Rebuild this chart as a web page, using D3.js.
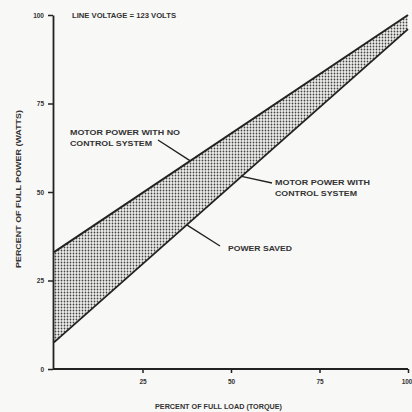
<!DOCTYPE html>
<html><head><meta charset="utf-8">
<script src="https://cdn.jsdelivr.net/npm/d3@7"></script>
<style>
html,body{margin:0;padding:0;background:#f8f8f6;}
svg{display:block;}
text{font-family:"Liberation Sans",Arial,sans-serif;fill:#333;font-weight:bold;}
</style></head>
<body>
<script>
// Data
const loadPct = [0, 100];
const noControl = [33, 100];
const withControl = [7.5, 96];
const yTicks = [0, 25, 50, 75, 100];
const xTicks = [25, 50, 75, 100];
const xTitle = "PERCENT OF FULL LOAD (TORQUE)";
const yTitle = "PERCENT OF FULL POWER (WATTS)";
const note = "LINE VOLTAGE = 123 VOLTS";

const W = 412, H = 412;
const svg = d3.select("body").append("svg").attr("width", W).attr("height", H);
svg.append("rect").attr("width", W).attr("height", H).attr("fill", "#f8f8f6");

const x = d3.scaleLinear().domain([0, 100]).range([54, 408]);
const y = d3.scaleLinear().domain([0, 100]).range([369, 15]);

// dot pattern
const defs = svg.append("defs");
const pat = defs.append("pattern").attr("id", "dots").attr("patternUnits", "userSpaceOnUse")
  .attr("width", 3).attr("height", 3);
pat.append("rect").attr("width", 3).attr("height", 3).attr("fill", "#eeeeec");
pat.append("circle").attr("cx", 1.5).attr("cy", 1.5).attr("r", 0.9).attr("fill", "#444");

const pts = loadPct.map((d, i) => ({x: d, hi: noControl[i], lo: withControl[i]}));

svg.append("path").datum(pts)
  .attr("d", d3.area().x(d => x(d.x)).y0(d => y(d.lo)).y1(d => y(d.hi)))
  .attr("fill", "url(#dots)");

svg.append("path").datum(pts)
  .attr("d", d3.line().x(d => x(d.x)).y(d => y(d.hi)))
  .attr("fill", "none").attr("stroke", "#222").attr("stroke-width", 2);
svg.append("path").datum(pts)
  .attr("d", d3.line().x(d => x(d.x)).y(d => y(d.lo)))
  .attr("fill", "none").attr("stroke", "#222").attr("stroke-width", 1.8);

// axes
const yAxis = svg.append("g").attr("transform", "translate(53,0)")
  .call(d3.axisLeft(y).tickValues(yTicks).tickSize(5).tickSizeOuter(0).tickPadding(4));
const xAxis = svg.append("g").attr("transform", "translate(0,369)")
  .call(d3.axisBottom(x).tickValues(xTicks).tickSize(4).tickSizeOuter(0).tickPadding(6));
[yAxis, xAxis].forEach(a => {
  a.select(".domain").attr("stroke", "#222").attr("stroke-width", 1.8);
  a.selectAll(".tick line").attr("stroke", "#222").attr("stroke-width", 1.5);
  a.selectAll("text").attr("font-size", 6.5).attr("fill", "#444")
    .attr("font-family", "Liberation Sans, Arial, sans-serif").attr("font-weight", "bold");
});
xAxis.select(".domain").attr("d", "M53,0H408");
xAxis.selectAll(".tick text").filter(d => d === 100).attr("text-anchor", "end").attr("dx", 4);

// titles
svg.append("text").attr("x", 155).attr("y", 409).attr("font-size", 7)
  .attr("textLength", 127).attr("lengthAdjust", "spacingAndGlyphs").text(xTitle);
svg.append("text").attr("transform", "translate(21,268) rotate(-90)").attr("font-size", 7)
  .attr("textLength", 158).attr("lengthAdjust", "spacingAndGlyphs").text(yTitle);
svg.append("text").attr("x", 72).attr("y", 18).attr("font-size", 7)
  .attr("textLength", 104).attr("lengthAdjust", "spacingAndGlyphs").text(note);

// annotations
function label(lines, lx, ly, widths) {
  lines.forEach((t, i) => {
    svg.append("text").attr("x", lx).attr("y", ly + i * 11).attr("font-size", 7)
      .attr("textLength", widths[i]).attr("lengthAdjust", "spacingAndGlyphs").text(t);
  });
}
function pointer(x1, y1, dx, dy) {
  svg.append("line").attr("x1", x1).attr("y1", y1).attr("x2", x(dx)).attr("y2", y(dy))
    .attr("stroke", "#222").attr("stroke-width", 1.4);
}
const hiAt = v => noControl[0] + (noControl[1] - noControl[0]) * v / 100;
const loAt = v => withControl[0] + (withControl[1] - withControl[0]) * v / 100;

label(["MOTOR POWER WITH NO", "CONTROL SYSTEM"], 70, 135, [110, 82]);
pointer(158, 140, 38.5, hiAt(38.5));
label(["MOTOR POWER WITH", "CONTROL SYSTEM"], 275, 185, [95, 82]);
pointer(272, 183, 53, loAt(53));
label(["POWER SAVED"], 228, 251, [64]);
pointer(220, 246, 37.5, loAt(37.5));
</script>
</body></html>
